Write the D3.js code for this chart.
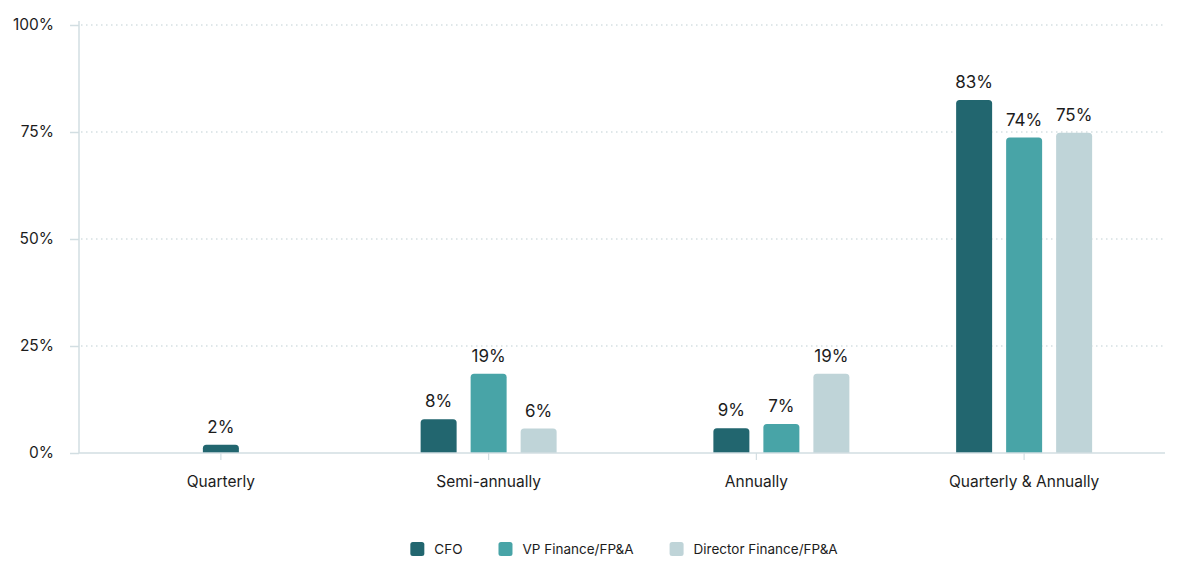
<!DOCTYPE html>
<html>
<head>
<meta charset="utf-8">
<script src="https://cdn.jsdelivr.net/npm/d3@7/dist/d3.min.js"></script>
<style>
  html, body { margin: 0; padding: 0; background: #ffffff; }
  svg { display: block; font-family: Inter, "Noto Sans", sans-serif; }
</style>
</head>
<body>
<svg id="chart" width="1178" height="572"></svg>
<script>
// ---- data ----
const categories = ["Quarterly", "Semi-annually", "Annually", "Quarterly & Annually"];
const seriesNames = ["CFO", "VP Finance/FP&A", "Director Finance/FP&A"];
const seriesColors = ["#22666f", "#48a4a7", "#bfd4d8"];
// bar heights (percent) per series, one entry per category
const cfoValues      = [1.9, 7.9, 5.8, 82.5];
const vpValues       = [0,   18.5, 6.8, 73.7];
const directorValues = [0,   5.7, 18.5, 74.8];
// printed value labels per series
const cfoLabels      = ["2%", "8%", "9%", "83%"];
const vpLabels       = ["",   "19%", "7%", "74%"];
const directorLabels = ["",   "6%", "19%", "75%"];
// slot layout inside each category group (series index per slot, null = empty slot)
const groupSlots = [[0], [0, 1, 2], [null, 0, 1, 2], [0, 1, 2]];
const yTicks = [0, 25, 50, 75, 100];

const seriesValues = [cfoValues, vpValues, directorValues];
const seriesLabels = [cfoLabels, vpLabels, directorLabels];

// ---- layout ----
const svg = d3.select("#chart");
const plotLeft = 79, plotRight = 1165, plotTop = 25, plotBottom = 453;
const slotStep = 50;

const x0 = d3.scaleBand().domain(categories).range([87, 1158]).padding(0);
const y = d3.scaleLinear().domain([0, 100]).range([plotBottom, plotTop]);

const textColor = "#1c1c1c";
const axisColor = "#d2dee2";

// gridlines
svg.append("g").selectAll("line")
  .data(yTicks.filter(t => t > 0))
  .join("line")
  .attr("x1", plotLeft + 2).attr("x2", plotRight)
  .attr("y1", d => y(d)).attr("y2", d => y(d))
  .attr("stroke", "#bfcfd4").attr("stroke-width", 1.2)
  .attr("stroke-dasharray", "1.5,3.5");

// y axis
const yAxis = d3.axisLeft(y).tickValues(yTicks).tickFormat(d => d + "%").tickSize(9).tickPadding(16);
const gy = svg.append("g").attr("transform", `translate(${plotLeft},0)`).call(yAxis);
gy.select(".domain").remove();
gy.selectAll(".tick line").attr("stroke", axisColor).attr("stroke-width", 1.5);
gy.selectAll(".tick text").attr("fill", textColor).attr("font-size", 15.5).attr("font-family", "Inter, sans-serif");
svg.append("line").attr("x1", plotLeft).attr("x2", plotLeft).attr("y1", plotTop - 4).attr("y2", plotBottom)
  .attr("stroke", axisColor).attr("stroke-width", 1.5);

// bars
const barData = [];
categories.forEach((cat, ci) => {
  const slots = groupSlots[ci];
  const c = x0(cat) + x0.bandwidth() / 2;
  const n = slots.length;
  const x1 = d3.scaleBand().domain(d3.range(n))
    .range([c - n * slotStep / 2, c + n * slotStep / 2])
    .paddingInner(0.28).paddingOuter(0.14);
  slots.forEach((si, k) => {
    if (si === null) return;
    const v = seriesValues[si][ci];
    if (!v) return;
    barData.push({ x: x1(k), w: x1.bandwidth(), v, label: seriesLabels[si][ci], color: seriesColors[si] });
  });
});

function topRoundedRect(x, yTop, w, h, r) {
  r = Math.min(r, h, w / 2);
  return `M${x},${yTop + h}V${yTop + r}Q${x},${yTop} ${x + r},${yTop}H${x + w - r}Q${x + w},${yTop} ${x + w},${yTop + r}V${yTop + h}Z`;
}

svg.append("g").selectAll("path")
  .data(barData)
  .join("path")
  .attr("d", d => topRoundedRect(d.x, y(d.v), d.w, y(0) - y(d.v), 3.5))
  .attr("fill", d => d.color);

svg.append("g").selectAll("text")
  .data(barData.filter(d => d.label))
  .join("text")
  .attr("x", d => d.x + d.w / 2)
  .attr("y", d => y(d.v) - 12)
  .attr("text-anchor", "middle")
  .attr("fill", textColor)
  .attr("font-size", 17)
  .text(d => d.label);

// x axis
const xAxis = d3.axisBottom(x0).tickSize(7).tickPadding(16);
const gx = svg.append("g").attr("transform", `translate(0,${plotBottom})`).call(xAxis);
gx.select(".domain").remove();
gx.selectAll(".tick line").attr("stroke", axisColor).attr("stroke-width", 1.2);
gx.selectAll(".tick text").attr("fill", textColor).attr("font-size", 15.5).attr("font-family", "Inter, sans-serif");
svg.append("line").attr("x1", plotLeft).attr("x2", plotRight).attr("y1", plotBottom).attr("y2", plotBottom)
  .attr("stroke", axisColor).attr("stroke-width", 1.5);

// legend
const legend = svg.append("g");
const items = legend.selectAll("g").data(seriesNames).join("g");
items.append("rect").attr("width", 14).attr("height", 14).attr("rx", 2.5)
  .attr("fill", (d, i) => seriesColors[i]);
items.append("text").attr("x", 24).attr("y", 12).attr("font-size", 13.5)
  .attr("fill", textColor).text(d => d);
const widths = [];
items.each(function () { widths.push(this.getBBox().width); });
const gap = 36;
const total = d3.sum(widths) + gap * (widths.length - 1);
let cx = (plotLeft + plotRight) / 2 - total / 2 + 2;
items.attr("transform", (d, i) => {
  const t = `translate(${cx},542)`;
  cx += widths[i] + gap;
  return t;
});
</script>
</body>
</html>
